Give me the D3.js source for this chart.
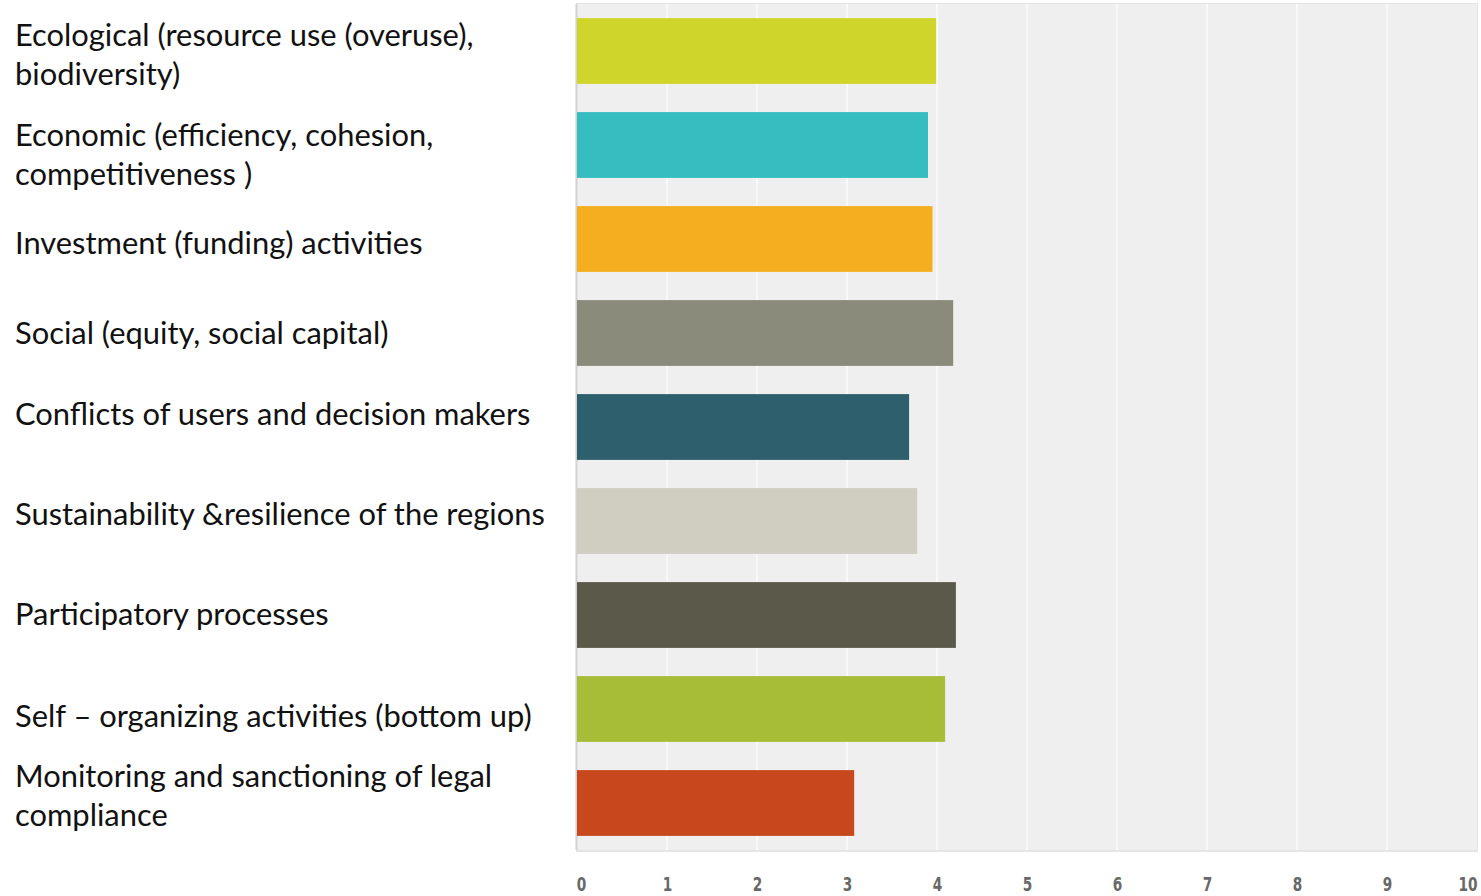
<!DOCTYPE html>
<html>
<head>
<meta charset="utf-8">
<script src="https://cdn.jsdelivr.net/npm/d3@7"></script>
<style>
  body { margin: 0; background: #fff; }
</style>
</head>
<body>
<svg class="chart" width="1481" height="896"></svg>
<script>
// categories, values and colours
var categories = [
    ["Ecological (resource use (overuse),", "biodiversity)"],
    ["Economic (efficiency, cohesion,", "competitiveness )"],
    ["Investment (funding) activities"],
    ["Social (equity, social capital)"],
    ["Conflicts of users and decision makers"],
    ["Sustainability &resilience of the regions"],
    ["Participatory processes"],
    ["Self \u2013 organizing activities (bottom up)"],
    ["Monitoring and sanctioning of legal", "compliance"]
];
var values = [3.99, 3.90, 3.95, 4.18, 3.69, 3.78, 4.21, 4.09, 3.08];
var colors = ["#cfd52a", "#35bdbf", "#f5ae1f", "#8a8b7a", "#2e5f6d",
              "#d0cec0", "#5b594a", "#a8bd37", "#c8481d"];
var tickValues = [0, 1, 2, 3, 4, 5, 6, 7, 8, 9, 10];

// labels were pasted beside the chart, not exactly centred on the bars
var labelNudge = [3, 9, 4, 0, -13, -7, -1, 7, -8];

var svg = d3.select(".chart");

var plot = { left: 577, right: 1477, top: 4, bottom: 850 };

var x = d3.scaleLinear()
    .domain([0, 10])
    .range([plot.left, plot.right]);

var y = d3.scaleBand()
    .domain(d3.range(categories.length))
    .range([plot.top, plot.bottom])
    .paddingInner(0.3)
    .paddingOuter(0.15);

// plot background + soft shadow frame
svg.append("rect")
    .attr("x", plot.left - 1)
    .attr("y", plot.top - 1)
    .attr("width", plot.right - plot.left + 2)
    .attr("height", plot.bottom - plot.top + 3)
    .attr("fill", "#e4e4e4");
svg.append("rect")
    .attr("x", plot.left)
    .attr("y", plot.top)
    .attr("width", plot.right - plot.left)
    .attr("height", plot.bottom - plot.top)
    .attr("fill", "#efefef");
svg.append("line")
    .attr("x1", plot.left - 0.5)
    .attr("x2", plot.left - 0.5)
    .attr("y1", plot.top)
    .attr("y2", plot.bottom)
    .attr("stroke", "#d2d2d2")
    .attr("stroke-width", 2);

// vertical grid lines
svg.selectAll(".grid")
    .data(tickValues.slice(1, -1))
    .enter().append("line")
    .attr("class", "grid")
    .attr("x1", d => x(d))
    .attr("x2", d => x(d))
    .attr("y1", plot.top)
    .attr("y2", plot.bottom)
    .attr("stroke", "#f8f8f8")
    .attr("stroke-width", 2);

// bars
svg.selectAll(".bar")
    .data(values)
    .enter().append("rect")
    .attr("class", "bar")
    .attr("x", x(0))
    .attr("y", (d, i) => y(i))
    .attr("width", d => x(d) - x(0))
    .attr("height", y.bandwidth())
    .attr("fill", (d, i) => colors[i]);

// x axis labels (narrow, bold, grey)
var axis = svg.append("g")
    .attr("transform", "translate(0," + (plot.bottom + 41) + ")")
    .call(d3.axisBottom(x).tickValues(tickValues).tickSize(0).tickPadding(0));
axis.select(".domain").remove();
axis.selectAll("text")
    .attr("dy", 0)
    .attr("font-family", "'Liberation Sans Narrow', 'DejaVu Sans Condensed', Arial, sans-serif")
    .attr("font-weight", "bold")
    .attr("font-size", "19px")
    .attr("fill", "#686868")
    .attr("text-anchor", d => d === 0 ? "start" : d === 10 ? "end" : "middle")
    .attr("transform", "scale(0.8,1)")
    .attr("x", d => d === 0 ? -1 : 0);

// category labels on the left
var labelFont = "Lato, 'Open Sans', sans-serif";
var lineGap = 39;
var labels = svg.selectAll(".cat")
    .data(categories)
    .enter().append("text")
    .attr("class", "cat")
    .attr("font-family", labelFont)
    .attr("font-size", "28px")
    .attr("fill", "#111");

labels.selectAll("tspan")
    .data((d, i) => d.map(t => ({ t: t, i: i, n: d.length })))
    .enter().append("tspan")
    .attr("x", 15)
    .attr("y", (d, k) => y(d.i) + y.bandwidth() / 2 + labelNudge[d.i] + (k - (d.n - 1) / 2) * lineGap)
    .attr("dy", "0.36em")
    .text(d => d.t);

// fit font size so the longest line matches the picture (~530px)
var longest = labels.filter((d, i) => i === 5).node().getComputedTextLength();
var fs = 28 * 530 / longest;
labels.attr("font-size", fs + "px");
</script>
</body>
</html>
